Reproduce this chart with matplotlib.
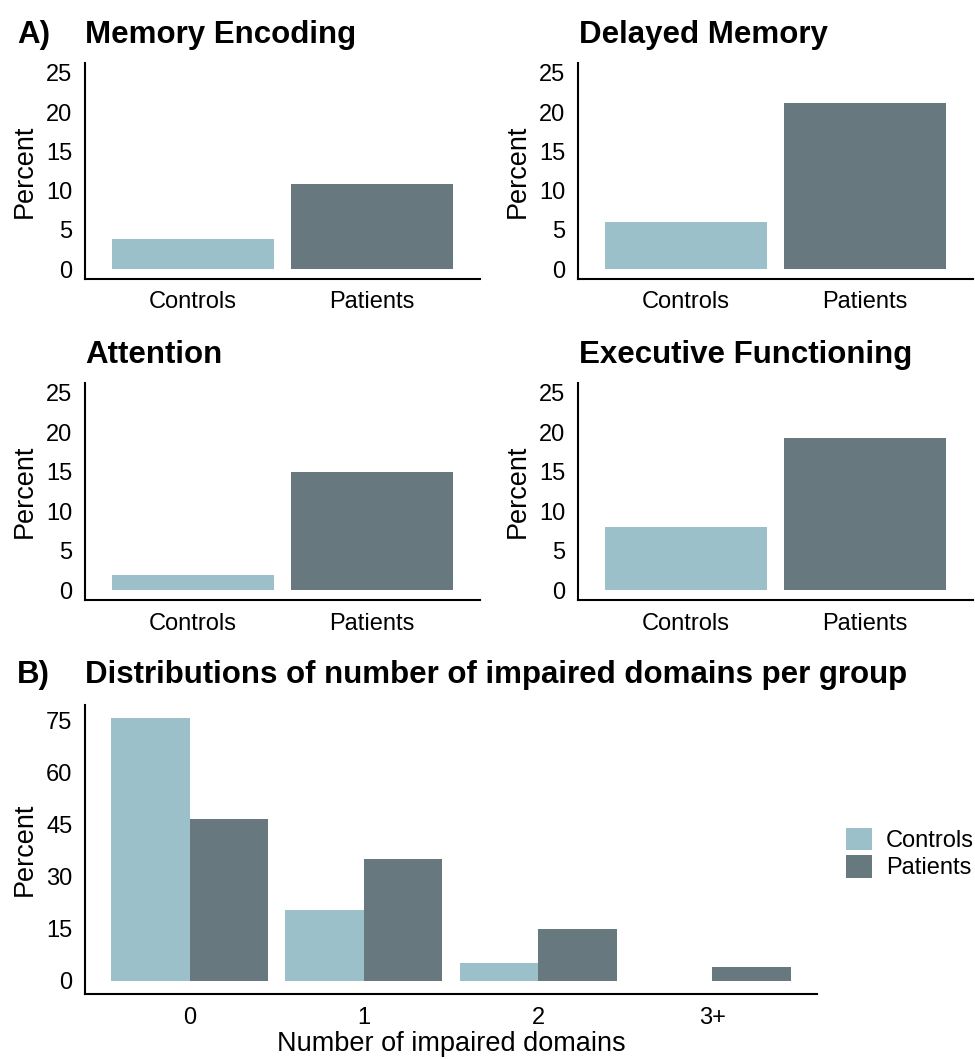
import matplotlib
matplotlib.use("Agg")
import matplotlib.pyplot as plt
from matplotlib.patches import Patch
import numpy as np

plt.rcParams['font.family'] = ['Liberation Sans', 'DejaVu Sans']

# ---- data ----
groups = ["Controls", "Patients"]
domains = ["Memory Encoding", "Delayed Memory", "Attention", "Executive Functioning"]
controls_pct = [3.9, 6.0, 1.9, 8.0]
patients_pct = [10.8, 21.2, 15.0, 19.3]

n_impaired = ["0", "1", "2", "3+"]
dist_controls = [75.8, 20.3, 5.2, 0.0]
dist_patients = [46.8, 35.3, 15.0, 4.0]

col_controls = "#9BC0CA"
col_patients = "#68787F"

W, H = 975, 1059
fig = plt.figure(figsize=(W / 100, H / 100), dpi=100)


def add_ax(l, t, r, b):
    return fig.add_axes([l / W, 1 - b / H, (r - l) / W, (b - t) / H])


def style(ax):
    for s in ["top", "right"]:
        ax.spines[s].set_visible(False)
    for s in ["left", "bottom"]:
        ax.spines[s].set_linewidth(1.5)
        ax.spines[s].set_color("black")
    ax.tick_params(axis="both", length=0, labelsize=17, pad=9, colors="black")


boxes = [(85, 63, 480, 279), (578, 63, 973, 279), (85, 383, 480, 600), (578, 383, 973, 600)]
title_pos = [(85, 43), (579, 43), (85, 363), (579, 363)]

for i, name in enumerate(domains):
    ax = add_ax(*boxes[i])
    x = np.arange(1, len(groups) + 1)
    ax.bar(x, [controls_pct[i], patients_pct[i]], width=0.9,
           color=[col_controls, col_patients], linewidth=0)
    ax.set_xlim(0.4, 2.6)
    ax.set_ylim(-1.25, 26.25)
    ax.set_yticks([0, 5, 10, 15, 20, 25])
    ax.set_xticks(x)
    ax.set_xticklabels(groups)
    ax.set_ylabel("Percent", fontsize=19.5, labelpad=6)
    style(ax)
    tx, ty = title_pos[i]
    fig.text(tx / W, 1 - ty / H, name, fontsize=22.5, fontweight="bold",
             ha="left", va="baseline")

fig.text(17 / W, 1 - 43 / H, "A)", fontsize=22.5, fontweight="bold", ha="left", va="baseline")

# ---- panel B ----
axb = add_ax(85, 705, 817, 994)
xb = np.arange(len(n_impaired))
axb.bar(xb - 0.225, dist_controls, width=0.45, color=col_controls, linewidth=0)
axb.bar(xb + 0.225, dist_patients, width=0.45, color=col_patients, linewidth=0)
axb.set_xlim(-0.6, 3.6)
axb.set_ylim(-3.8, 79.6)
axb.set_yticks([0, 15, 30, 45, 60, 75])
axb.set_xticks(xb)
axb.set_xticklabels(n_impaired)
axb.set_ylabel("Percent", fontsize=19.5, labelpad=6)
axb.set_xlabel("Number of impaired domains", fontsize=19.5, labelpad=2)
style(axb)

fig.text(17 / W, 1 - 683 / H, "B)", fontsize=22.5, fontweight="bold", ha="left", va="baseline")
fig.text(85 / W, 1 - 683 / H, "Distributions of number of impaired domains per group",
         fontsize=22.5, fontweight="bold", ha="left", va="baseline")

handles = [Patch(facecolor=col_controls, edgecolor="none", label="Controls"),
           Patch(facecolor=col_patients, edgecolor="none", label="Patients")]
fig.legend(handles=handles, loc="upper left", bbox_to_anchor=(845.7 / W, 1 - 827.7 / H),
           frameon=False, fontsize=17, handlelength=1.1, handleheight=1.1,
           labelspacing=0.12, handletextpad=0.6, borderpad=0, borderaxespad=0)

fig.savefig("out.png", dpi=100)
